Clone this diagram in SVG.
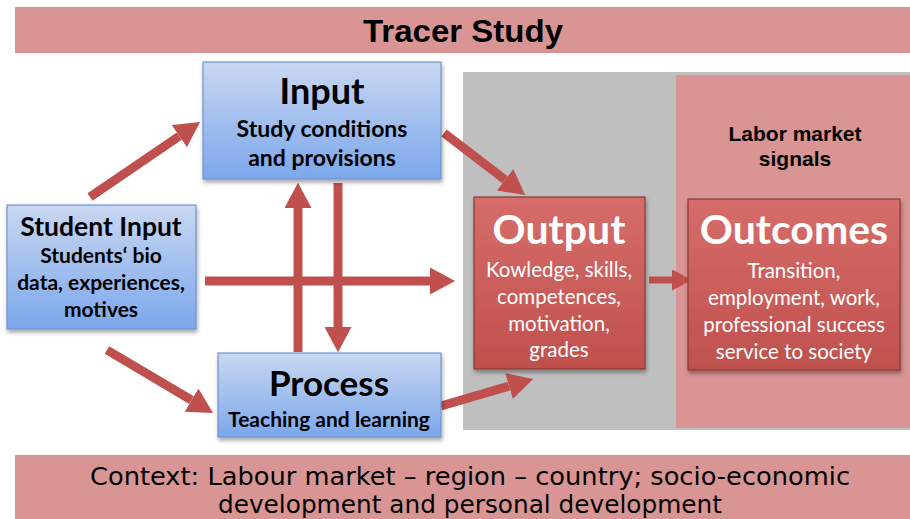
<svg xmlns="http://www.w3.org/2000/svg" width="910" height="519" viewBox="0 0 910 519">
<style>
.band{fill:#d99594}
.blue{fill:url(#gBlue);stroke:#6f95cf;stroke-width:1.2;filter:url(#sh)}
.red{fill:url(#gRed);stroke:#8c3836;stroke-width:1.2;filter:url(#sh)}
.t{font-family:Lato,"Open Sans",sans-serif;text-anchor:middle;font-weight:bold;fill:#000}
.w{font-family:Lato,"Open Sans",sans-serif;text-anchor:middle;fill:#fff}
.lm{font-family:'Liberation Sans',Arial,sans-serif;font-weight:bold;font-size:21px;text-anchor:middle}
.a{stroke:#c0504d;stroke-width:9;fill:none;marker-end:url(#ah)}
</style>
<defs>
<linearGradient id="gBlue" x1="0" y1="0" x2="0" y2="1"><stop offset="0" stop-color="#c9d7f1"/><stop offset="1" stop-color="#7ba7ec"/></linearGradient>
<linearGradient id="gRed" x1="0" y1="0" x2="0" y2="1"><stop offset="0" stop-color="#d66d6a"/><stop offset="1" stop-color="#bf504d"/></linearGradient>
<filter id="sh" x="-10%" y="-10%" width="125%" height="130%"><feDropShadow dx="1" dy="3" stdDeviation="2" flood-color="#000" flood-opacity="0.35"/></filter>
<marker id="ah" viewBox="0 0 3 3" markerWidth="3" markerHeight="3" refX="0" refY="1.5" orient="auto" markerUnits="strokeWidth"><path d="M0,0 L2.8,1.5 L0,3 z" fill="#c0504d"/></marker>
</defs>

<g id="title">
<rect class="band" x="15" y="7" width="895" height="46"/>
<text x="463" y="42" textLength="200" lengthAdjust="spacingAndGlyphs" style="font-family:'Liberation Sans Narrow','Liberation Sans',sans-serif;font-weight:bold;font-size:31px;text-anchor:middle">Tracer Study</text>
</g>

<g id="panel-gray"><rect x="463" y="72" width="447" height="358" fill="#bfbfbf"/></g>
<g id="panel-labor">
<rect x="676" y="75" width="234" height="353" fill="#d99594"/>
<text class="lm" x="795" y="141">Labor market</text>
<text class="lm" x="795" y="166">signals</text>
</g>

<g id="connectors">
<line class="a" x1="90" y1="197" x2="179.3" y2="136.1"/>
<line class="a" x1="298" y1="352" x2="298" y2="208"/>
<line class="a" x1="338" y1="183" x2="338" y2="327"/>
<line class="a" x1="205" y1="281" x2="430" y2="281"/>
<line class="a" x1="107" y1="350" x2="191.5" y2="400.2"/>
<line class="a" x1="444" y1="133" x2="505.1" y2="179.8"/>
<line class="a" x1="441" y1="406" x2="509" y2="386"/>
<line class="a" style="stroke-width:7" x1="649" y1="280" x2="672" y2="280"/>
</g>

<g id="input">
<rect class="blue" x="203" y="62" width="238" height="117"/>
<text class="t" x="322" y="104" font-size="36">Input</text>
<text class="t" x="322" y="137" font-size="23">Study conditions</text>
<text class="t" x="322" y="166" font-size="23">and provisions</text>
</g>

<g id="student-input">
<rect class="blue" x="7" y="205" width="189" height="124"/>
<text class="t" x="101" y="236" font-size="26.5">Student Input</text>
<text class="t" x="101" y="263" font-size="21">Students‘ bio</text>
<text class="t" x="101" y="290" font-size="21">data, experiences,</text>
<text class="t" x="101" y="317" font-size="21">motives</text>
</g>

<g id="process">
<rect class="blue" x="218" y="353" width="223" height="84"/>
<text class="t" x="329" y="396" font-size="35">Process</text>
<text class="t" x="329" y="427" font-size="21">Teaching and learning</text>
</g>

<g id="output">
<rect class="red" x="474" y="197" width="171" height="172"/>
<text class="w" x="559" y="244" font-size="41" font-weight="bold">Output</text>
<text class="w" x="559" y="277" font-size="20.5">Kowledge, skills,</text>
<text class="w" x="559" y="304" font-size="20.5">competences,</text>
<text class="w" x="559" y="331" font-size="20.5">motivation,</text>
<text class="w" x="559" y="357" font-size="20.5">grades</text>
</g>

<g id="outcomes">
<rect class="red" x="688" y="199" width="212" height="171"/>
<text class="w" x="794" y="244" font-size="41" font-weight="bold">Outcomes</text>
<text class="w" x="794" y="278" font-size="20.5">Transition,</text>
<text class="w" x="794" y="305" font-size="20.5">employment, work,</text>
<text class="w" x="794" y="332" font-size="20.5">professional success</text>
<text class="w" x="794" y="359" font-size="20.5">service to society</text>
</g>

<g id="context">
<rect class="band" x="15" y="455" width="895" height="64"/>
<text x="470" y="485" textLength="760" lengthAdjust="spacingAndGlyphs" style="font-family:'DejaVu Sans',sans-serif;font-size:25px;text-anchor:middle">Context: Labour market – region – country; socio-economic</text>
<text x="470" y="513" textLength="504" lengthAdjust="spacingAndGlyphs" style="font-family:'DejaVu Sans',sans-serif;font-size:25px;text-anchor:middle">development and personal development</text>
</g>
</svg>
